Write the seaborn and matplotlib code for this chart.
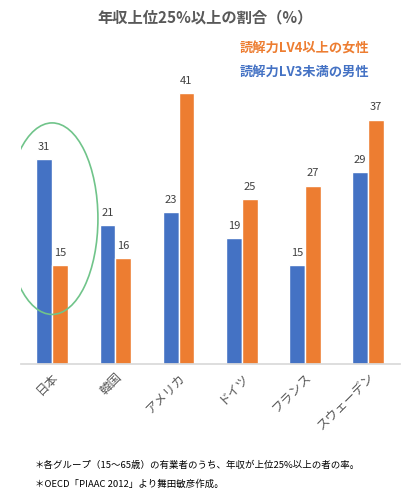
import matplotlib
matplotlib.use("Agg")
import matplotlib.pyplot as plt
import seaborn as sns
import pandas as pd
from matplotlib.patches import Ellipse

countries = ["日本", "韓国", "アメリカ", "ドイツ", "フランス", "スウェーデン"]
men_lv3 = [31, 21, 23, 19, 15, 29]
women_lv4 = [15, 16, 41, 25, 27, 37]
series = ["読解力LV3未満の男性", "読解力LV4以上の女性"]

df = pd.DataFrame({
    "country": countries * 2,
    "value": men_lv3 + women_lv4,
    "series": [series[0]] * len(countries) + [series[1]] * len(countries),
})

sns.set_theme(style="white")
plt.rcParams['font.family'] = ['Noto Sans CJK JP', 'DejaVu Sans']

fig = plt.figure(figsize=(4.10, 5.02), dpi=100)
ax = fig.add_axes([0.05, 0.273, 0.925, 0.592])
palette = {series[0]: "#4472C4", series[1]: "#ED7D31"}
sns.barplot(data=df, x="country", y="value", hue="series", hue_order=series,
            palette=palette, width=0.5, ax=ax, legend=False, saturation=1)
for c in ax.containers:
    ax.bar_label(c, padding=6, fontsize=8, color="#404040")
ax.set_ylim(0, 45)
ax.set_xlabel("")
ax.set_ylabel("")
ax.set_yticks([])
for s in ["top", "right", "left"]:
    ax.spines[s].set_visible(False)
ax.spines["bottom"].set_color("#D9D9D9")
ax.tick_params(axis="x", length=0, pad=4)
for lab in ax.get_xticklabels():
    lab.set_rotation(45)
    lab.set_ha("right")
    lab.set_rotation_mode("anchor")
    lab.set_fontsize(9)
    lab.set_color("#595959")

ax.add_patch(Ellipse((0.0, 22), 1.45, 29, fill=False, edgecolor="#70C48A", lw=1.2))

fig.text(0.5, 0.965, "年収上位25%以上の割合（%）", ha="center", va="center",
         fontsize=11, fontweight="bold", color="#595959")
fig.text(0.585, 0.895, series[1], fontsize=9.5, fontweight="bold", color="#ED7D31")
fig.text(0.585, 0.848, series[0], fontsize=9.5, fontweight="bold", color="#4472C4")
fig.text(0.085, 0.068, "＊各グループ（15～65歳）の有業者のうち、年収が上位25%以上の者の率。",
         fontsize=6.8, color="#000000")
fig.text(0.085, 0.030, "＊OECD「PIAAC 2012」より舞田敏彦作成。", fontsize=6.8, color="#000000")

fig.savefig("out.png", dpi=100)
